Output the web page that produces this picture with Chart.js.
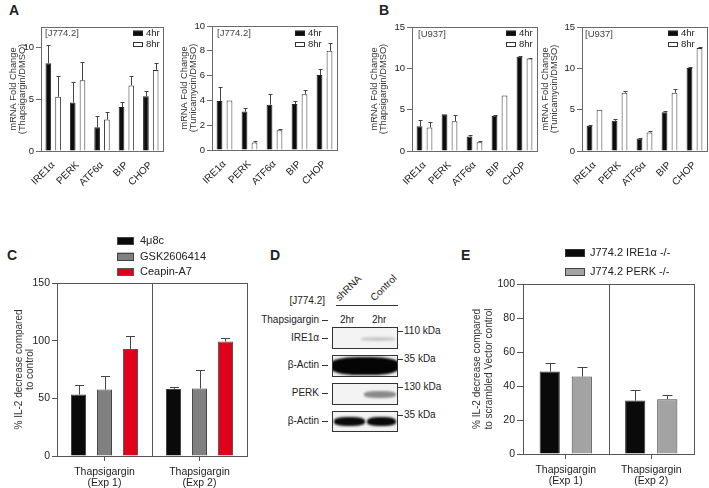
<!DOCTYPE html>
<html>
<head>
<meta charset="utf-8">
<script src="https://cdn.jsdelivr.net/npm/chart.js@4.4.0/dist/chart.umd.min.js"></script>
<style>
    html, body { margin: 0; padding: 0; background: #fff; }
    body { width: 709px; height: 488px; position: relative; overflow: hidden;
           font-family: 'Liberation Sans', Arial, sans-serif; color: #222; }
    .panel { position: absolute; }
    .tag { position: absolute; font-weight: bold; font-size: 14px; line-height: 14px; }
    .t { position: absolute; font-size: 10px; line-height: 10px; white-space: nowrap; color: #222; }
    .dash { position: absolute; height: 1px; background: #333; }
    .blot { position: absolute; left: 332px; width: 64px; border: 1px solid #333; background: #f3f3f3; overflow: hidden; }
    .band { position: absolute; filter: blur(1.2px); border-radius: 40%; }
</style>
</head>
<body>

<div class="tag" style="left:9px;top:3px">A</div>
<div class="tag" style="left:379px;top:3px">B</div>
<div class="tag" style="left:7px;top:248px">C</div>
<div class="tag" style="left:270px;top:248px">D</div>
<div class="tag" style="left:461px;top:248px">E</div>

<div class="panel" style="left:0;top:0;width:170px;height:230px"><canvas id="chart-a1"></canvas></div>
<div class="panel" style="left:170px;top:0;width:175px;height:230px"><canvas id="chart-a2"></canvas></div>
<div class="panel" style="left:355px;top:0;width:185px;height:230px"><canvas id="chart-b1"></canvas></div>
<div class="panel" style="left:540px;top:0;width:169px;height:230px"><canvas id="chart-b2"></canvas></div>
<div class="panel" style="left:0;top:232px;width:250px;height:256px"><canvas id="chart-c"></canvas></div>
<div class="panel" style="left:462px;top:232px;width:247px;height:256px"><canvas id="chart-e"></canvas></div>

<!-- Panel D: western blot -->
<div class="t" style="right:384px;top:296px">[J774.2]</div>
<div class="t" style="left:341px;top:293px;transform:rotate(-45deg);transform-origin:0 100%">shRNA</div>
<div class="t" style="left:376px;top:293px;transform:rotate(-45deg);transform-origin:0 100%">Control</div>
<div class="dash" style="left:336px;top:305px;width:62px"></div>
<div class="t" style="right:390px;top:315px">Thapsigargin</div>
<div class="dash" style="left:322px;top:320px;width:6px"></div>
<div class="t" style="left:340px;top:315px">2hr</div>
<div class="t" style="left:372px;top:315px">2hr</div>

<div class="t" style="right:390px;top:333px">IRE1α</div>
<div class="dash" style="left:322px;top:338px;width:6px"></div>
<div class="blot" style="top:327px;height:20px">
    <div class="band" style="left:28px;top:9px;width:34px;height:4px;background:#c8c8c8"></div>
</div>
<div class="dash" style="left:398px;top:331px;width:5px"></div>
<div class="t" style="left:404px;top:326px">110 kDa</div>

<div class="t" style="right:390px;top:360px">β-Actin</div>
<div class="dash" style="left:322px;top:365px;width:6px"></div>
<div class="blot" style="top:355px;height:20px">
    <div class="band" style="left:-3px;top:1px;width:70px;height:18px;background:#050505"></div>
</div>
<div class="dash" style="left:398px;top:359px;width:5px"></div>
<div class="t" style="left:404px;top:354px">35 kDa</div>

<div class="t" style="right:390px;top:388px">PERK</div>
<div class="dash" style="left:322px;top:393px;width:6px"></div>
<div class="blot" style="top:383px;height:20px">
    <div class="band" style="left:31px;top:7px;width:32px;height:7px;background:#8a8a8a"></div>
</div>
<div class="dash" style="left:398px;top:387px;width:5px"></div>
<div class="t" style="left:404px;top:382px">130 kDa</div>

<div class="t" style="right:390px;top:416px">β-Actin</div>
<div class="dash" style="left:322px;top:421px;width:6px"></div>
<div class="blot" style="top:411px;height:19px">
    <div class="band" style="left:1px;top:5px;width:31px;height:9px;background:#0a0a0a"></div>
    <div class="band" style="left:34px;top:5px;width:29px;height:9px;background:#0a0a0a"></div>
</div>
<div class="dash" style="left:398px;top:415px;width:5px"></div>
<div class="t" style="left:404px;top:410px">35 kDa</div>

<script>
// Categories
const genes = ['IRE1α', 'PERK', 'ATF6α', 'BIP', 'CHOP'];
const timepoints = ['4hr', '8hr'];

// A: J774.2, Thapsigargin
const j774ThapsHr4 = [8.5, 4.7, 2.3, 4.25, 5.3];
const j774ThapsHr4Err = [1.75, 1.95, 1.05, 0.5, 0.55];
const j774ThapsHr8 = [5.25, 6.85, 3.05, 6.35, 7.85];
const j774ThapsHr8Err = [2.0, 1.8, 0.7, 0.95, 0.7];

// A: J774.2, Tunicamycin
const j774TuniHr4 = [3.95, 3.1, 3.65, 3.7, 6.05];
const j774TuniHr4Err = [1.15, 0.3, 0.85, 0.28, 0.5];
const j774TuniHr8 = [4.0, 0.6, 1.6, 4.5, 8.0];
const j774TuniHr8Err = [0, 0.15, 0.1, 0.3, 0.6];

// B: U937, Thapsigargin
const u937ThapsHr4 = [3.0, 4.45, 1.75, 4.27, 11.4];
const u937ThapsHr4Err = [0.7, 0, 0.2, 0.08, 0.08];
const u937ThapsHr8 = [2.85, 3.6, 1.05, 6.7, 11.2];
const u937ThapsHr8Err = [0.7, 0.7, 0.15, 0, 0.1];

// B: U937, Tunicamycin
const u937TuniHr4 = [3.05, 3.65, 1.5, 4.7, 10.05];
const u937TuniHr4Err = [0.15, 0.2, 0.1, 0.1, 0.15];
const u937TuniHr8 = [5.0, 7.05, 2.25, 7.05, 12.45];
const u937TuniHr8Err = [0, 0.15, 0.15, 0.45, 0.12];

// C: inhibitors
const experiments = [['Thapsigargin', '(Exp 1)'], ['Thapsigargin', '(Exp 2)']];
const inhibitors = ['4μ8c', 'GSK2606414', 'Ceapin-A7'];
const inhibitor4u8c = [53.3, 58.2];
const inhibitor4u8cErr = [8.1, 2.0];
const inhibitorGsk = [57.6, 58.5];
const inhibitorGskErr = [11.9, 15.9];
const inhibitorCeapin = [92.7, 99.3];
const inhibitorCeapinErr = [11.3, 2.7];

// E: knockouts
const knockouts = ['J774.2 IRE1α -/-', 'J774.2 PERK -/-'];
const koIre1 = [48.5, 31.4];
const koIre1Err = [5.3, 6.5];
const koPerk = [45.6, 32.2];
const koPerkErr = [5.7, 2.8];

Chart.defaults.font.family = "'Liberation Sans', Arial, sans-serif";
Chart.defaults.color = '#222';

// Frame, error bars, inset legend and note
const panelDecor = {
    id: 'panelDecor',
    afterDatasetsDraw(chart, args, opts) {
        const ctx = chart.ctx;
        const yScale = chart.scales.y;
        ctx.save();
        ctx.strokeStyle = opts.errorColor || '#444';
        ctx.lineWidth = 1;
        chart.data.datasets.forEach((ds, di) => {
            if (!ds.errorBars) return;
            chart.getDatasetMeta(di).data.forEach((bar, i) => {
                const err = ds.errorBars[i];
                if (!err) return;
                const x = Math.round(bar.x) + 0.5;
                const yEnd = Math.round(yScale.getPixelForValue(ds.data[i] + err)) + 0.5;
                const half = opts.capWidth / 2;
                ctx.beginPath();
                ctx.moveTo(x, bar.y);
                ctx.lineTo(x, yEnd);
                ctx.moveTo(x - half, yEnd);
                ctx.lineTo(x + half, yEnd);
                ctx.stroke();
            });
        });
        ctx.restore();
    },
    afterDraw(chart, args, opts) {
        const ctx = chart.ctx;
        const area = chart.chartArea;
        ctx.save();
        ctx.strokeStyle = opts.frameColor || '#666';
        ctx.lineWidth = 1;
        ctx.strokeRect(Math.round(area.left) + 0.5, Math.round(area.top) + 0.5,
            Math.round(area.right - area.left), Math.round(area.bottom - area.top));

        if (opts.divider) {
            const xs = chart.scales.x;
            const mid = Math.round((xs.getPixelForValue(0) + xs.getPixelForValue(1)) / 2) + 0.5;
            ctx.beginPath();
            ctx.moveTo(mid, area.top);
            ctx.lineTo(mid, area.bottom);
            ctx.stroke();
        }

        if (opts.note) {
            ctx.fillStyle = '#444';
            ctx.font = "9.5px 'Liberation Sans', Arial, sans-serif";
            ctx.textBaseline = 'middle';
            ctx.fillText(opts.note.text, opts.note.x, opts.note.y);
        }

        const lg = opts.legend;
        if (lg) {
            ctx.font = lg.font;
            ctx.textBaseline = 'middle';
            chart.data.datasets.forEach((ds, i) => {
                const y = lg.y + i * lg.rowGap;
                ctx.fillStyle = ds.backgroundColor;
                ctx.fillRect(lg.x, y - lg.h / 2, lg.w, lg.h);
                ctx.strokeStyle = ds.borderColor;
                ctx.strokeRect(lg.x + 0.5, Math.round(y - lg.h / 2) + 0.5, lg.w - 1, lg.h - 1);
                ctx.fillStyle = '#222';
                ctx.fillText(ds.label, lg.x + lg.w + lg.gap, y);
            });
        }
        ctx.restore();
    }
};
Chart.register(panelDecor);

function buildChart(id, labels, datasets, s) {
    return new Chart(document.getElementById(id), {
        type: 'bar',
        data: { labels: labels, datasets: datasets },
        options: {
            responsive: true,
            maintainAspectRatio: false,
            animation: false,
            layout: { padding: { top: s.top, right: s.right, left: 0, bottom: 0 } },
            datasets: { bar: { categoryPercentage: s.catPct, barPercentage: s.barPct, borderWidth: 1 } },
            scales: {
                x: {
                    afterFit: scale => { scale.height = s.xHeight; },
                    border: { display: false },
                    grid: s.xTicks
                        ? { display: true, drawOnChartArea: false, offset: false, tickLength: 5, color: '#555' }
                        : { display: false },
                    ticks: {
                        autoSkip: false,
                        maxRotation: s.rotate, minRotation: s.rotate,
                        padding: s.rotate ? 1 : 6,
                        font: { size: s.xFont, lineHeight: 1.0 },
                        color: '#222'
                    }
                },
                y: {
                    min: 0, max: s.yMax,
                    afterFit: scale => { scale.width = s.yWidth; },
                    border: { display: false },
                    grid: { display: true, drawOnChartArea: false, tickLength: s.yTick, color: s.frame },
                    ticks: { stepSize: s.yStep, includeBounds: false, padding: 2, font: { size: s.yFont }, color: '#222' },
                    title: {
                        display: true, text: s.yTitle, color: '#333',
                        font: { size: s.titleFont, lineHeight: s.titleLine },
                        padding: { top: s.titlePad, bottom: 0 }
                    }
                }
            },
            plugins: {
                legend: { display: false },
                tooltip: { enabled: false },
                panelDecor: {
                    capWidth: s.cap, errorColor: '#444', frameColor: s.frame,
                    divider: !!s.divider, note: s.note || null, legend: s.legend
                }
            }
        }
    });
}

function timeSets(hr4, hr4Err, hr8, hr8Err) {
    return [
        { label: timepoints[0], data: hr4, errorBars: hr4Err, backgroundColor: '#0d0d0d', borderColor: '#222' },
        { label: timepoints[1], data: hr8, errorBars: hr8Err, backgroundColor: '#ffffff', borderColor: '#333' }
    ];
}

const smallBase = {
    xHeight: 79, catPct: 0.8, barPct: 0.58, rotate: 45, xFont: 10, yFont: 9.5, yTick: 5,
    titleFont: 9.3, titleLine: 0.95, cap: 4, frame: '#6a6a6a'
};
const insetLegend = x => ({ x: x, y: 33, rowGap: 11, w: 10, h: 5, gap: 3, font: "9.5px 'Liberation Sans', Arial, sans-serif" });

buildChart('chart-a1', genes, timeSets(j774ThapsHr4, j774ThapsHr4Err, j774ThapsHr8, j774ThapsHr8Err),
    Object.assign({}, smallBase, {
        top: 27, right: 7, yWidth: 41, yMax: 12, yStep: 5, titlePad: 9.5,
        yTitle: ['mRNA Fold Change', '(Thapsigargin/DMSO)'],
        note: { text: '[J774.2]', x: 45, y: 33 }, legend: insetLegend(133)
    }));

buildChart('chart-a2', genes, timeSets(j774TuniHr4, j774TuniHr4Err, j774TuniHr8, j774TuniHr8Err),
    Object.assign({}, smallBase, {
        top: 26, right: 8, xHeight: 80, yWidth: 42, yMax: 10, yStep: 2, titlePad: 10,
        yTitle: ['mRNA Fold Change', '(Tunicamycin/DMSO)'],
        note: { text: '[J774.2]', x: 47, y: 33 }, legend: insetLegend(125)
    }));

buildChart('chart-b1', genes, timeSets(u937ThapsHr4, u937ThapsHr4Err, u937ThapsHr8, u937ThapsHr8Err),
    Object.assign({}, smallBase, {
        top: 27, right: 3, yWidth: 57, yMax: 15, yStep: 5, titlePad: 15,
        yTitle: ['mRNA Fold Change', '(Thapsigargin/DMSO)'],
        note: { text: '[U937]', x: 63, y: 34 }, legend: insetLegend(151)
    }));

buildChart('chart-b2', genes, timeSets(u937TuniHr4, u937TuniHr4Err, u937TuniHr8, u937TuniHr8Err),
    Object.assign({}, smallBase, {
        top: 27, right: 2, yWidth: 42, yMax: 15, yStep: 5, titlePad: 1.5,
        yTitle: ['mRNA Fold Change', '(Tunicamycin/DMSO)'],
        note: { text: '[U937]', x: 45, y: 34 }, legend: insetLegend(128)
    }));

buildChart('chart-c', experiments, [
        { label: inhibitors[0], data: inhibitor4u8c, errorBars: inhibitor4u8cErr, backgroundColor: '#0a0a0a', borderColor: '#444' },
        { label: inhibitors[1], data: inhibitorGsk, errorBars: inhibitorGskErr, backgroundColor: '#808080', borderColor: '#444' },
        { label: inhibitors[2], data: inhibitorCeapin, errorBars: inhibitorCeapinErr, backgroundColor: '#e1001a', borderColor: '#555' }
    ], {
        top: 51, right: 3, xHeight: 32, yWidth: 57, yMax: 150, yStep: 50, yTick: 5,
        catPct: 0.82, barPct: 0.58, rotate: 0, xTicks: true, divider: true,
        xFont: 10.5, yFont: 10.5, titleFont: 10, titleLine: 1.15, titlePad: 13,
        yTitle: ['% IL-2 decrease compared', 'to control'], cap: 9, frame: '#555',
        legend: { x: 117, y: 9, rowGap: 15.5, w: 17, h: 8, gap: 6, font: "11px 'Liberation Sans', Arial, sans-serif" }
    });

buildChart('chart-e', experiments, [
        { label: knockouts[0], data: koIre1, errorBars: koIre1Err, backgroundColor: '#0a0a0a', borderColor: '#333' },
        { label: knockouts[1], data: koPerk, errorBars: koPerkErr, backgroundColor: '#a3a3a3', borderColor: '#444' }
    ], {
        top: 52, right: 15, xHeight: 34, yWidth: 61, yMax: 100, yStep: 20, yTick: 6,
        catPct: 0.75, barPct: 0.63, rotate: 0, xTicks: true, divider: true,
        xFont: 10.5, yFont: 10.5, titleFont: 10, titleLine: 1.2, titlePad: 9,
        yTitle: ['% IL-2 decrease compared', 'to scrambled Vector control'], cap: 10, frame: '#555',
        legend: { x: 103, y: 21, rowGap: 19, w: 20, h: 8, gap: 5, font: "11px 'Liberation Sans', Arial, sans-serif" }
    });
</script>
</body>
</html>
